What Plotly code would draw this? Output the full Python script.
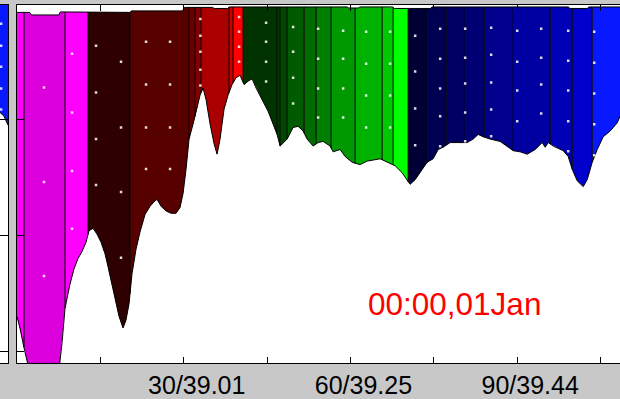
import numpy as np
import plotly.graph_objects as go

# ---- section data -------------------------------------------------------
# lower boundary of the coloured section (distance, depth)
curve_u = [0, 0.54, 1.08, 1.62, 2.16, 3.24, 5.04, 6.84, 7.56, 8.1, 8.64, 9.54, 10.26,
           10.98, 11.7, 12.42, 12.96, 13.68, 14.4, 15.12, 15.84, 16.38, 16.92, 17.64,
           18.36, 19.08, 19.62, 20.16, 20.7, 21.42, 22.14, 23.04, 23.94, 24.66, 25.2,
           25.92, 26.82, 27.72, 28.62, 29.34, 29.88, 30.42, 30.96, 31.68, 32.4, 32.94,
           33.48, 34.02, 34.74, 35.46, 36.0, 36.54, 37.26, 37.98, 38.7, 39.42, 40.14,
           40.86, 41.58, 42.3, 43.02, 44.1, 45.18, 46.08, 46.8, 47.34, 48.6, 49.68,
           50.58, 51.48, 52.2, 53.28, 54.18, 55.08, 56.34, 56.88, 58.14, 59.04, 60.3,
           61.74, 63.0, 65.34, 66.6, 68.04, 69.3, 70.2, 70.74, 71.64, 72.9, 73.8, 74.88,
           75.78, 76.68, 77.94, 79.2, 81.0, 82.08, 82.98, 83.88, 85.14, 86.94, 88.2,
           89.28, 90.54, 91.8, 93.24, 94.5, 95.04, 95.58, 96.48, 98.28, 99.18, 99.9,
           100.8, 101.88, 102.6, 103.5, 104.4, 105.48, 106.74, 108.0, 108.54, 109.4]
curve_d = [270, 280, 293, 304, 316, 332, 340, 332, 316, 293, 263, 242, 229,
           220, 214, 206, 196, 194, 199, 206, 216, 227, 239, 255,
           270, 280, 273, 259, 233, 212, 197, 182, 175, 171, 169,
           175, 179, 181, 181, 176, 164, 143, 117, 104, 91, 79,
           73, 83, 104, 121, 130, 117, 91, 79, 70, 64, 62,
           70, 67, 65, 73, 83, 93, 104, 113, 123, 117, 107,
           106, 110, 117, 123, 120, 119, 123, 128, 126, 132, 137,
           139, 136, 134, 137, 140, 146, 153, 156, 152, 143, 137, 134,
           126, 124, 120, 120, 120, 117, 113, 115, 117, 119, 123,
           127, 128, 130, 126, 120, 124, 120, 123, 127, 132, 143,
           153, 158, 152, 137, 126, 115, 110, 103, 97, 91]

# upper boundary (surface layer)
top_u = [0, 2.3, 2.6, 7.5, 7.8, 13.0, 13.3, 20.3, 20.6, 29.8, 30.1, 35.2, 35.5, 37.9,
         38.2, 59.4, 59.7, 61.4, 61.7, 67.6, 67.9, 74.4, 74.7, 99.2, 99.5, 102.6,
         102.9, 110]
top_d = [7.7, 7.7, 9.9, 9.9, 7.3, 7.3, 7.7, 7.7, 6.4, 6.4, 3.4, 3.4, 4.3, 4.3,
         3.0, 3.0, 3.9, 3.9, 3.0, 3.0, 4.3, 4.3, 3.0, 3.0, 4.3, 4.3, 3.0, 3.0]

# station bands: edges along the section and their fill colours
band_edges = [0, 1.26, 8.64, 12.78, 20.34, 30.96, 32.04, 33.12, 38.16, 38.88, 40.68,
              46.8, 47.34, 48.6, 51.66, 53.82, 56.52, 60.84, 65.7, 67.68, 70.38,
              73.8, 77.22, 80.64, 84.06, 89.28, 95.94, 99.9, 103.5, 110]
band_colors = ["#ff00ff", "#dc00dc", "#ff00ff", "#2e0000", "#560000", "#680000",
               "#800000", "#aa0000", "#c40000", "#ff0000", "#003300", "#003c00",
               "#004800", "#005a00", "#006c00", "#008000", "#009a00", "#00b200",
               "#00c800", "#00ff00", "#000034", "#000052", "#000062", "#000072",
               "#00008c", "#0000a2", "#0000b6", "#0000cc", "#0818ff"]

# sample locations
dot_u = [4.86, 4.86, 4.86,
         9.9, 9.9, 9.9, 9.9,
         14.22, 14.22, 14.22, 14.22, 18.72, 18.72, 18.72, 18.72,
         23.22, 23.22, 23.22, 23.22, 27.54, 27.54, 27.54, 27.54,
         33.0, 33.0, 33.0, 33.0, 33.0,
         39.96, 39.96, 39.96, 39.96,
         44.82, 44.82, 44.82, 44.82,
         49.68, 49.68, 49.68, 49.68,
         54.18, 54.18, 54.18, 54.18,
         58.68, 58.68, 58.68, 58.68,
         62.82, 62.82, 62.82, 62.82,
         67.14, 67.14, 67.14, 67.14,
         71.64, 71.64, 71.64, 71.64,
         76.14, 76.14, 76.14, 76.14, 76.14,
         80.64, 80.64, 80.64, 80.64, 80.64,
         85.32, 85.32, 85.32, 85.32, 85.32,
         90.0, 90.0, 90.0, 90.0,
         94.32, 94.32, 94.32, 94.32,
         99.18, 99.18, 99.18, 99.18, 99.18,
         103.86, 103.86, 103.86, 103.86, 103.86]
dot_d = [72.5, 154, 235,
         43.3, 94, 144.6, 194.4,
         36.5, 76.8, 117, 156.7, 50.2, 106.9, 162.7, 219.3,
         33, 70, 106.9, 142.9, 33, 70, 106.9, 142.9,
         13.3, 27.9, 41.6, 57.1, 70.8,
         11.6, 24.5, 37.3, 50.2,
         16.7, 33, 50.2, 67.4,
         20.2, 41.6, 64, 86.3,
         21.9, 47.6, 73.4, 98.3,
         23.6, 47.6, 73.4, 98.3,
         24.5, 51.9, 79.4, 106.9,
         24.5, 51.9, 79.4, 106.9,
         27.9, 58.8, 90.6, 122.3,
         21.9, 47.6, 73.4, 97.4, 123.2,
         21.9, 46.8, 69.1, 94, 118.9,
         21, 44.2, 68.2, 91.4, 114.6,
         23.6, 50.2, 75.1, 101.7,
         21.9, 46.8, 70, 94.9,
         23.6, 49.4, 75.1, 101.7, 127.5,
         24.5, 51.1, 77.7, 104.3, 130.9]

# neighbouring panel (its right-hand end)
side_u = [0, 0.7, 1.44]
side_d = [94, 97, 105]
side_dot_u = [0.2, 0.2, 0.2, 0.2, 0.2]
side_dot_d = [17.6, 36.5, 54.5, 73.4, 91.4]

tick_vals = [0, 15, 30, 45, 60, 75, 90, 105]
tick_text = ["", "", "30/39.01", "", "60/39.25", "", "90/39.44", ""]
depth_ticks = [100, 200, 300]
time_label = "00:00,01Jan"

# ---- figure -------------------------------------------------------------
W, H = 620, 399
GRAY = "#c8c8c8"
y_dom = [34 / H, 394 / H]
d_range = [310.3, 1.3]

fig = go.Figure()


def band_polygon(a, b):
    xt = [a] + [u for u in top_u if a < u < b] + [b]
    dt = list(np.interp(xt, top_u, top_d))
    xb = [b] + [u for u in curve_u[::-1] if a < u < b] + [a]
    db = list(np.interp(xb, curve_u, curve_d))
    return xt + xb, dt + db


for i, col in enumerate(band_colors):
    px, pd_ = band_polygon(band_edges[i], band_edges[i + 1])
    fig.add_trace(go.Scatter(x=px, y=pd_, fill="toself", fillcolor=col,
                             mode="lines", line=dict(width=0),
                             hoverinfo="skip", showlegend=False))

# band separators
sx, sy = [], []
for e in band_edges[1:-1]:
    sx += [e, e, None]
    sy += [float(np.interp(e, top_u, top_d)), float(np.interp(e, curve_u, curve_d)), None]
fig.add_trace(go.Scatter(x=sx, y=sy, mode="lines", line=dict(color="black", width=1),
                         hoverinfo="skip", showlegend=False))

# boundaries
fig.add_trace(go.Scatter(x=curve_u, y=curve_d, mode="lines",
                         line=dict(color="black", width=1),
                         hoverinfo="skip", showlegend=False))
fig.add_trace(go.Scatter(x=top_u, y=top_d, mode="lines", line=dict(color="black", width=1),
                         hoverinfo="skip", showlegend=False))

# samples
fig.add_trace(go.Scatter(x=dot_u, y=dot_d, mode="markers",
                         marker=dict(symbol="square", size=2.5,
                                     color="rgba(255,255,255,0.85)", line=dict(width=0)),
                         hoverinfo="skip", showlegend=False))

# neighbouring panel
fig.add_trace(go.Scatter(x=[0] + side_u + [side_u[-1]],
                         y=[1.3] + side_d + [1.3],
                         fill="toself", fillcolor="#0818ff", mode="lines",
                         line=dict(width=0), xaxis="x2", yaxis="y2",
                         hoverinfo="skip", showlegend=False))
fig.add_trace(go.Scatter(x=side_u, y=side_d, mode="lines",
                         line=dict(color="black", width=1), xaxis="x2", yaxis="y2",
                         hoverinfo="skip", showlegend=False))
fig.add_trace(go.Scatter(x=side_dot_u, y=side_dot_d, mode="markers",
                         marker=dict(symbol="square", size=2.5,
                                     color="rgba(255,255,255,0.85)"),
                         xaxis="x2", yaxis="y2", hoverinfo="skip", showlegend=False))

fig.add_annotation(text=time_label, xref="paper", yref="paper",
                   x=366 / W, y=(H - 306) / H, xanchor="left", yanchor="middle",
                   showarrow=False,
                   font=dict(family="Liberation Sans, Arial", size=31.5, color="#ff0000"))

fig.update_layout(
    width=W, height=H,
    margin=dict(l=0, r=0, t=0, b=0),
    paper_bgcolor=GRAY, plot_bgcolor="white",
    font=dict(family="Liberation Sans, Arial", color="black"),
    xaxis=dict(domain=[17 / W, 1], range=[0, 108.5], showgrid=False, zeroline=False,
               showline=True, linecolor="black", linewidth=1, mirror="ticks",
               ticks="inside", ticklen=6, tickcolor="black",
               tickvals=tick_vals, ticktext=tick_text, ticklabelshift=13,
               tickfont=dict(size=25), anchor="y"),
    yaxis=dict(domain=y_dom, range=d_range, showgrid=False, zeroline=False,
               showline=True, linecolor="black", linewidth=1,
               ticks="inside", ticklen=7, tickcolor="black",
               tickvals=depth_ticks, showticklabels=False, anchor="x"),
    xaxis2=dict(domain=[0, 8 / W], range=[0, 1.44], showgrid=False, zeroline=False,
                showline=True, linecolor="black", linewidth=1, mirror=True,
                ticks="", showticklabels=False, anchor="y2"),
    yaxis2=dict(domain=y_dom, range=d_range, showgrid=False, zeroline=False,
                side="right", showline=True, linecolor="black", linewidth=1,
                ticks="inside", ticklen=8, tickcolor="black",
                tickvals=depth_ticks, showticklabels=False, anchor="x2"),
)

fig.write_html("out.html")
